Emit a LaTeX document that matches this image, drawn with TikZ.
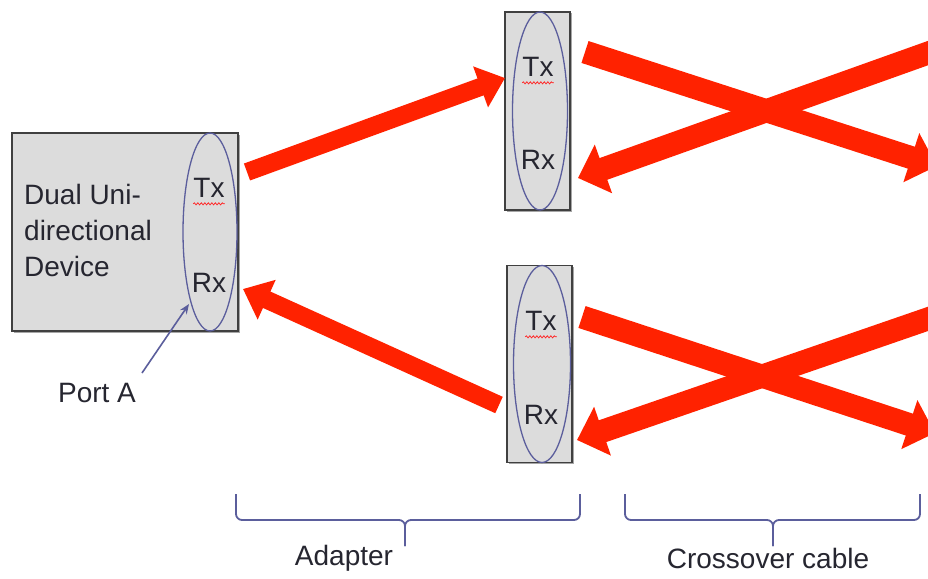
\documentclass[tikz,border=0pt]{standalone}
\usepackage{fontspec}
\setmainfont{Liberation Sans}
\usetikzlibrary{arrows.meta,decorations.pathmorphing,shapes.geometric,shadows}
\definecolor{arrowred}{HTML}{FF2200}
\definecolor{portblue}{HTML}{5B5E9C}
\definecolor{boxgray}{HTML}{DCDCDC}
\definecolor{textdark}{HTML}{262630}
\begin{document}
\begin{tikzpicture}[x=1pt,y=-1pt,
  box/.style={draw=black!75, line width=1.7pt, fill=boxgray, inner sep=0pt,
    drop shadow={shadow xshift=1.5pt, shadow yshift=-1.5pt, opacity=0.35, fill=black}},
  port/.style={draw=portblue, line width=1.3pt, ellipse, inner sep=0pt},
  lbl/.style={font=\fontsize{28}{36}\selectfont, text=textdark, inner sep=0pt},
  bigarrow/.style={arrowred, line width=18pt, -{Triangle[length=26pt,width=42pt]}},
  xarrow/.style={arrowred, line width=23pt, -{Triangle[length=27pt,width=50pt]}},
  squiggle/.style={draw=red!85, line width=0.8pt, decorate,
    decoration={snake, amplitude=1pt, segment length=3.5pt}},
  pointer/.style={draw=portblue, line width=1.6pt, -{Stealth[length=10pt,width=8pt]}},
  bracestyle/.style={draw=portblue, line width=1.8pt, rounded corners=6pt}
]
\clip (0,0) rectangle (928,578);
\fill[white] (0,0) rectangle (928,578);

% device
\node[box, minimum width=226pt, minimum height=198pt] (dev) at (125,232) {};
\node[port, minimum width=54pt, minimum height=198pt] (pA) at (210,232) {};
\node[lbl, align=left, anchor=west] (devtxt) at (24,230) {Dual Uni-\\directional\\Device};
\node[lbl] (dtx) at (209,188) {Tx};
\node[lbl] (drx) at (209,283) {Rx};
\draw[squiggle] ([yshift=-6pt]dtx.south west) -- ([yshift=-6pt]dtx.south east);

% top adapter
\node[box, minimum width=65pt, minimum height=198pt] (ad1) at (537.5,111) {};
\node[port, minimum width=55pt, minimum height=198pt] (p1) at (540,111) {};
\node[lbl] (t1) at (538,67) {Tx};
\node[lbl] (r1) at (538,160) {Rx};
\draw[squiggle] ([yshift=-6pt]t1.south west) -- ([yshift=-6pt]t1.south east);

% bottom adapter
\node[box, minimum width=65pt, minimum height=197pt] (ad2) at (539.5,364) {};
\node[port, minimum width=57pt, minimum height=197pt] (p2) at (542,364) {};
\node[lbl] (t2) at (541,321) {Tx};
\node[lbl] (r2) at (541,415) {Rx};
\draw[squiggle] ([yshift=-6pt]t2.south west) -- ([yshift=-6pt]t2.south east);

% adapter arrows
\coordinate (a1s) at (247,172);
\coordinate (a1e) at (505,78);
\coordinate (a2s) at (499,405);
\coordinate (a2e) at (243,289);
\draw[bigarrow] (a1s) -- (a1e);
\draw[bigarrow] (a2s) -- (a2e);

% top crossover
\coordinate (x1s) at (585,52);
\coordinate (x1e) at (937,166);
\coordinate (x2s) at (945,47);
\coordinate (x2e) at (578,178);
\draw[xarrow] (x1s) -- (x1e);
\draw[xarrow] (x2s) -- (x2e);

% bottom crossover
\coordinate (x3s) at (582,317);
\coordinate (x3e) at (935,433);
\coordinate (x4s) at (945,313);
\coordinate (x4e) at (577,440);
\draw[xarrow] (x3s) -- (x3e);
\draw[xarrow] (x4s) -- (x4e);

% port A
\node[lbl] (portlbl) at (97,393) {Port A};
\coordinate (pAtail) at (142,373);
\coordinate (pAtip) at (189,304);
\draw[pointer] (pAtail) -- (pAtip);

% braces
\coordinate (b1l) at (236,494);
\coordinate (b1r) at (580,494);
\coordinate (b1m) at (405,546);
\draw[bracestyle] (b1l) -- (236,520) -- (405,520) -- (b1m);
\draw[bracestyle] (b1r) -- (580,520) -- (405,520) -- (b1m);
\node[lbl] (adlbl) at (344,558) {Adapter};

\coordinate (b2l) at (625,494);
\coordinate (b2r) at (920,494);
\coordinate (b2m) at (773,546);
\draw[bracestyle] (b2l) -- (625,520) -- (773,520) -- (b2m);
\draw[bracestyle] (b2r) -- (920,520) -- (773,520) -- (b2m);
\node[lbl] (xlbl) at (768,558) {Crossover cable};
\end{tikzpicture}
\end{document}
